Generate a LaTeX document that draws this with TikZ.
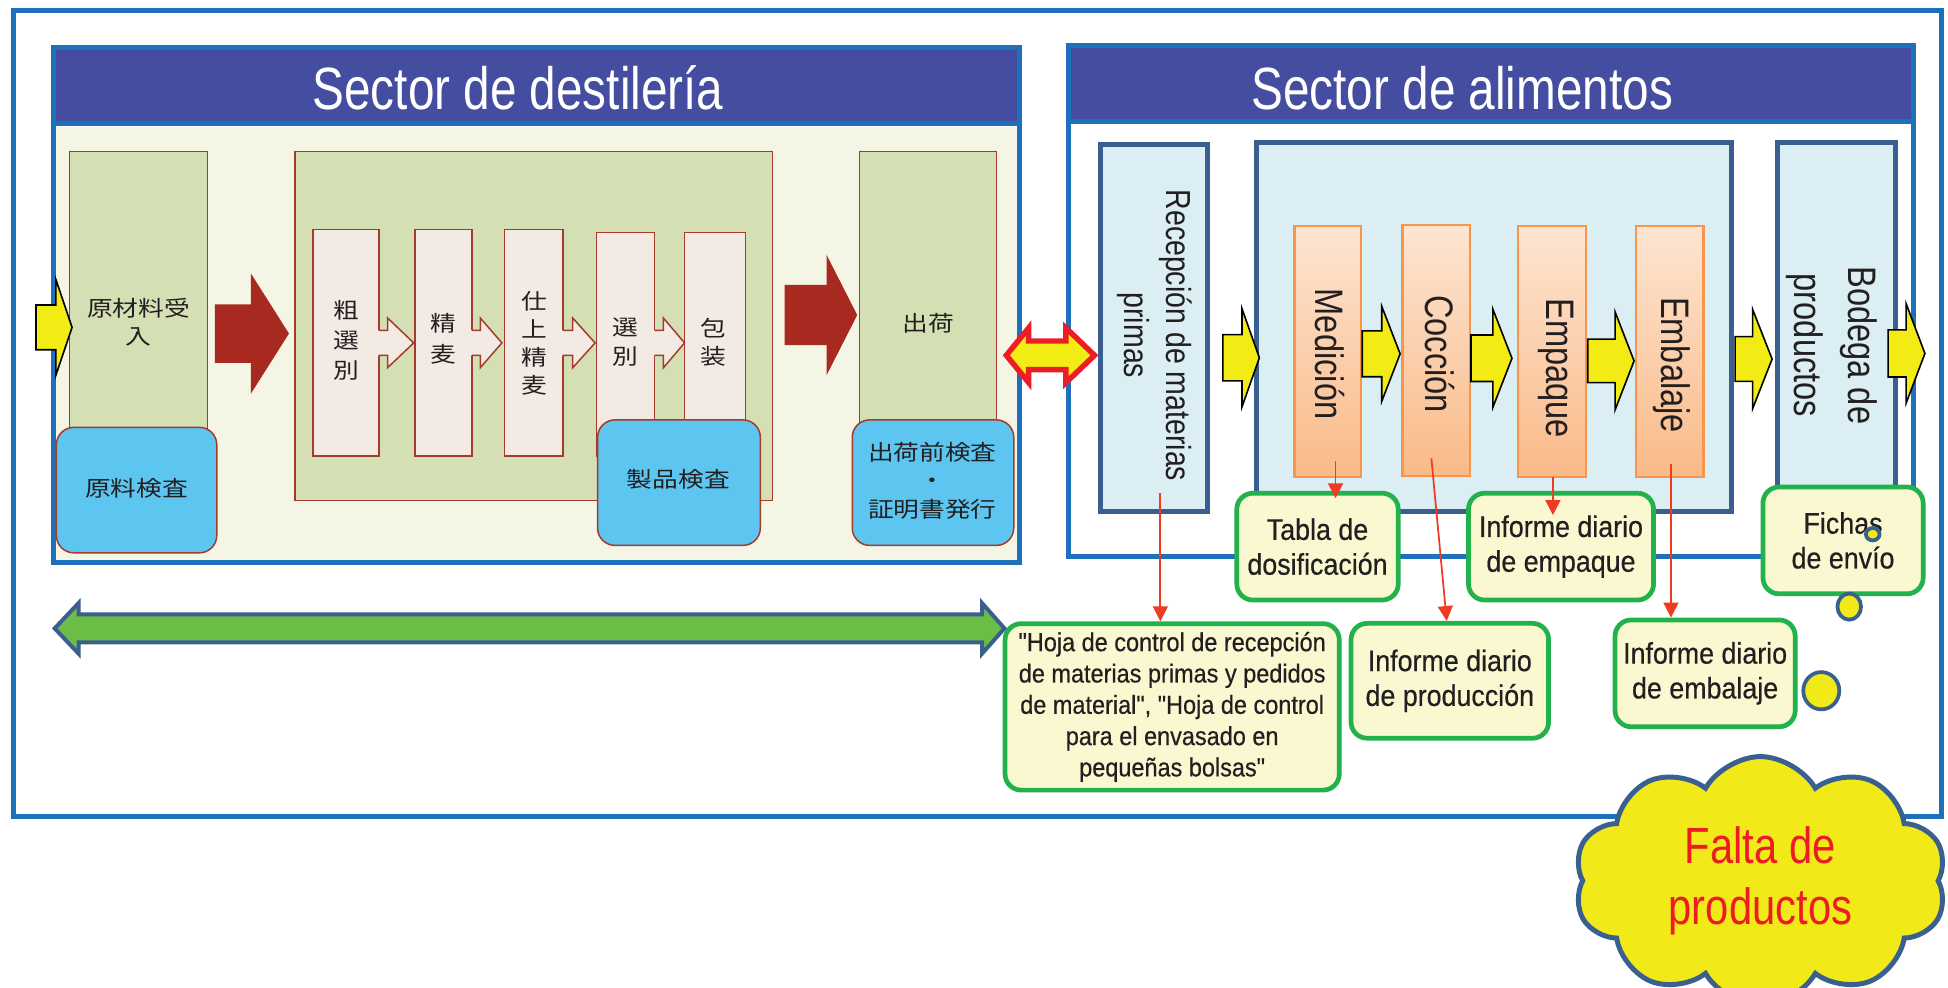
\documentclass[tikz,border=0pt]{standalone}
\usepackage{fontspec}
\setmainfont{Liberation Sans}
\newfontfamily\hdrf[FakeStretch=0.80]{Liberation Sans}
\newfontfamily\rotf[FakeStretch=0.82]{Liberation Sans}
\newfontfamily\lblf[FakeStretch=0.90,FakeBold=0.5]{Liberation Sans}
\newfontfamily\cldf[FakeStretch=0.82]{Liberation Sans}
\newfontfamily\cjkf[FakeStretch=1.19]{Noto Sans CJK JP}
\usetikzlibrary{shapes.symbols,arrows.meta,calc}

\definecolor{frameblue}{HTML}{1E70BA}
\definecolor{hdrfill}{HTML}{454DA0}
\definecolor{bgcream}{HTML}{F4F5E4}
\definecolor{boxgreen}{HTML}{D4E0B4}
\definecolor{boxred}{HTML}{A33A2C}
\definecolor{procfill}{HTML}{F3EAE3}
\definecolor{darkred}{HTML}{A8291F}
\definecolor{skyblue}{HTML}{5CC6F1}
\definecolor{lightblue}{HTML}{DAEEF4}
\definecolor{steel}{HTML}{3A5F8E}
\definecolor{orangetop}{HTML}{FDE5D2}
\definecolor{orangebot}{HTML}{F9BA88}
\definecolor{orangeedge}{HTML}{F7964A}
\definecolor{arrowyellow}{HTML}{F2EB14}
\definecolor{lblgreen}{HTML}{22B24C}
\definecolor{lblfill}{HTML}{FAF8D0}
\definecolor{linered}{HTML}{EE3B24}
\definecolor{redarrow}{HTML}{EE1D25}
\definecolor{arrowgreen}{HTML}{6CBD45}
\definecolor{cloudyellow}{HTML}{F2EA18}
\definecolor{cloudblue}{HTML}{3A6090}
\definecolor{cloudred}{HTML}{ED1C24}
\definecolor{textdark}{HTML}{231F20}

% box node from corner coordinates (display pixel units)
\newcommand{\mkbox}[6]{\node[#1, inner sep=0pt, outer sep=0pt, minimum width={(#5-#3)*0.5pt}, minimum height={(#6-#4)*0.5pt}] (#2) at ({(#3+#5)/2},{(#4+#6)/2}) {};}
% block arrow: style, x0, x1 (head base), x2 (tip), yc, shaft half, head half
\newcommand{\blockarr}[7]{\path[#1] (#2,#5-#6) -- (#3,#5-#6) -- (#3,#5-#7) -- (#4,#5) -- (#3,#5+#7) -- (#3,#5+#6) -- (#2,#5+#6) -- cycle;}
% double block arrow: style, xl, xli, xri, xr, yc, shaft half, head half
\newcommand{\dblarr}[8]{\path[#1] (#2,#6) -- (#3,#6-#8) -- (#3,#6-#7) -- (#4,#6-#7) -- (#4,#6-#8) -- (#5,#6) -- (#4,#6+#8) -- (#4,#6+#7) -- (#3,#6+#7) -- (#3,#6+#8) -- cycle;}
% small outline arrow between process boxes
\newcommand{\smallarr}[3]{%
 \fill[procfill] (#1-1,266) -- (#2,266) -- (#2,256) -- (#3,276) -- (#2,296) -- (#2,286) -- (#1-1,286) -- cycle;
 \draw[boxred, line width=0.6pt, line join=miter] (#1,266) -- (#2,266) -- (#2,256) -- (#3,276) -- (#2,296) -- (#2,286) -- (#1,286);}

\tikzset{
 secframe/.style={draw=frameblue, line width=2pt},
 hdrbox/.style={secframe, fill=hdrfill},
 hdrtext/.style={text=white, inner sep=0pt, font=\hdrf\fontsize{24pt}{28pt}\selectfont},
 greenbox/.style={fill=boxgreen, draw=boxred, line width=0.6pt},
 procbox/.style={fill=procfill, draw=boxred, line width=0.6pt},
 inspbox/.style={fill=skyblue, draw=boxred, line width=0.6pt, rounded corners=7pt},
 cjktext/.style={text=textdark, inner sep=0pt, align=center, font=\cjkf\fontsize{8.7pt}{12pt}\selectfont},
 bigred/.style={fill=darkred},
 yarrow/.style={fill=arrowyellow, draw=black, line width=0.65pt, line join=miter},
 bluebox/.style={fill=lightblue, draw=steel, line width=2pt},
 orangebox/.style={top color=orangetop, bottom color=orangebot, draw=orangeedge, line width=1pt},
 rottext/.style={rotate=-90, text=textdark, inner sep=0pt, align=center},
 lbl/.style={fill=lblfill, draw=lblgreen, line width=1.9pt, rounded corners=6.5pt, align=center, text=textdark, inner sep=0pt, font=\lblf\fontsize{12pt}{14pt}\selectfont},
 redarr/.style={draw=linered, line width=0.7pt, -{Triangle[width=6pt,length=6pt]}},
 bubble/.style={fill=cloudyellow, draw=cloudblue, line width=1.5pt},
}

\begin{document}
\begin{tikzpicture}[x=0.5pt,y=-0.5pt]
\useasboundingbox (0,0) rectangle (1568,795);
\fill[white] (0,0) rectangle (1568,795);

% outer frame
\draw[secframe] (10.7,8.4) rectangle (1563,657.4);

% ================= LEFT SECTOR =================
\mkbox{secframe, fill=white}{lbody}{42.7}{99.8}{821}{452.6}
\fill[bgcream] (44.8,102) rectangle (818.9,450.5);
\mkbox{hdrbox}{lhdr}{42.7}{38}{821}{99.8}
\node[hdrtext, anchor=base] (lhdrtxt) at (417,88) {Sector de destilería};

\mkbox{greenbox}{g1}{56}{122}{167}{400}
\mkbox{greenbox}{g2}{237.5}{122}{622}{403}
\mkbox{greenbox}{g3}{692}{122}{802}{400}
\mkbox{procbox}{p1}{252}{184.6}{305}{367}
\mkbox{procbox}{p2}{334}{184.6}{380}{367}
\mkbox{procbox}{p3}{406}{184.6}{453}{367}
\mkbox{procbox}{p4}{480}{187}{527}{367}
\mkbox{procbox}{p5}{551}{187}{600}{367}
\smallarr{305}{312}{333}
\smallarr{380}{386.6}{404}
\smallarr{453}{461}{479}
\smallarr{527}{534}{551}
\mkbox{inspbox}{b1}{45.4}{344}{174.5}{445}
\mkbox{inspbox}{b2}{481}{338}{612}{439}
\mkbox{inspbox}{b3}{686}{338}{816}{439}

\blockarr{bigred}{173}{202}{232.6}{268.5}{23.5}{48.3}
\blockarr{bigred}{631.6}{665.4}{690}{253.6}{24.2}{48.3}
\blockarr{yarrow}{29}{45}{58}{263.5}{18}{38.5}

\node[cjktext, font=\cjkf\fontsize{8.7pt}{11.5pt}\selectfont] (tgenzai) at (111.5,259.5) {原材料受\\入};
\node[cjktext] (tso) at (279,274) {粗\\選\\別};
\node[cjktext, font=\cjkf\fontsize{8.7pt}{12.5pt}\selectfont] (tsei) at (356.8,273) {精\\麦};
\node[cjktext, font=\cjkf\fontsize{8.7pt}{11.25pt}\selectfont] (tshiage) at (430,276.6) {仕\\上\\精\\麦};
\node[cjktext, font=\cjkf\fontsize{8.7pt}{11.5pt}\selectfont] (tsen) at (503,275.5) {選\\別};
\node[cjktext, font=\cjkf\fontsize{8.7pt}{11.5pt}\selectfont] (thou) at (574,275.5) {包\\装};
\node[cjktext] (tshukka) at (747.3,260.6) {出荷};
\node[cjktext] (tgenryo) at (110,393) {原料検査};
\node[cjktext] (tseihin) at (546,386) {製品検査};
\node[cjktext, font=\cjkf\fontsize{8.7pt}{11.6pt}\selectfont] (tmae) at (750.5,387) {出荷前検査\\・\\証明書発行};

% ================= RIGHT SECTOR =================
\mkbox{secframe, fill=white}{rbody}{860}{98}{1540}{448}
\mkbox{hdrbox}{rhdr}{860}{37}{1540}{98}
\node[hdrtext, anchor=base] (rhdrtxt) at (1177,88) {Sector de alimentos};

\mkbox{bluebox}{recep}{886}{116}{972}{412}
\mkbox{bluebox}{central}{1011}{115}{1394}{412}
\mkbox{bluebox}{bodega}{1431}{115}{1526}{412}
\mkbox{orangebox}{med}{1042}{182}{1095.5}{384}
\mkbox{orangebox}{coc}{1129}{181}{1183.3}{383}
\mkbox{orangebox}{emp}{1222}{182}{1276.7}{384}
\mkbox{orangebox}{emb}{1317}{182}{1371}{384}

\blockarr{yarrow}{984.3}{999.7}{1013.7}{288}{18.6}{39.5}
\blockarr{yarrow}{1096.5}{1112.2}{1127}{284.8}{18.5}{38.2}
\blockarr{yarrow}{1184}{1201.6}{1217}{288.4}{18.7}{39.6}
\blockarr{yarrow}{1278}{1300}{1315.3}{290.5}{17.5}{39.5}
\blockarr{yarrow}{1396.6}{1410.7}{1426.4}{289}{18}{40}
\blockarr{yarrow}{1519.8}{1534.3}{1549.4}{284.5}{19}{40}

\node[rottext, font=\rotf\fontsize{14pt}{17pt}\selectfont] (receptxt) at (929.5,270) {Recepción de materias\\primas};
\node[rottext, font=\rotf\fontsize{16pt}{19pt}\selectfont] (medtxt) at (1070.6,285) {Medición};
\node[rottext, font=\rotf\fontsize{16pt}{19pt}\selectfont] (coctxt) at (1159,285) {Cocción};
\node[rottext, font=\rotf\fontsize{16pt}{19pt}\selectfont] (emptxt) at (1252.7,296.4) {Empaque};
\node[rottext, font=\rotf\fontsize{16pt}{19pt}\selectfont] (embtxt) at (1345.6,293.8) {Embalaje};
\node[rottext, font=\rotf\fontsize{16pt}{22pt}\selectfont] (bodtxt) at (1474.5,278) {Bodega de\\productos};

% arrows between / under sectors
\dblarr{fill=arrowyellow, draw=redarrow, line width=2.2pt, line join=miter}{810}{828}{858}{881}{286}{11.5}{22}
\dblarr{fill=arrowgreen, draw=steel, line width=1.6pt, line join=miter}{44}{63.2}{790.5}{808.5}{505.8}{11.3}{20.3}

% ================= LABELS =================
\node[lbl, minimum width=65pt, minimum height=43pt] (tabla) at (1060.5,440) {Tabla de\\dosificación};
\node[lbl, minimum width=74.5pt, minimum height=43pt] (infemp) at (1256.5,440) {Informe diario\\de empaque};
\node[lbl, minimum width=64.5pt, minimum height=43pt] (fichas) at (1483.5,435) {Fichas\\de envío};
\node[lbl, minimum width=134.5pt, minimum height=67pt, font=\lblf\fontsize{10.5pt}{12.6pt}\selectfont] (hoja) at (943.5,569) {"Hoja de control de recepción\\de materias primas y pedidos\\de material", "Hoja de control\\para el envasado en\\pequeñas bolsas"};
\node[lbl, minimum width=79.5pt, minimum height=46.25pt] (infprod) at (1167,548) {Informe diario\\de producción};
\node[lbl, minimum width=72.5pt, minimum height=43pt] (infemb) at (1372.5,542) {Informe diario\\de embalaje};

% red connectors
\draw[redarr] ($(recep.south)+(5,-15)$) -- ($(hoja.north)+(-9.5,0)$);
\draw[redarr] ($(med.south)+(6.25,-13)$) -- ($(tabla.north)+(14.5,6)$);
\draw[redarr] ($(coc.south)+(-4,-14)$) -- ($(infprod.north)+(-2.5,0)$);
\draw[redarr] ($(emp.south)+(0.6,0)$) -- ($(infemp.north)+(-6.5,19.5)$);
\draw[redarr] ($(emb.south)+(1,-10.5)$) -- ($(infemb.north)+(-27.5,0)$);

% thought bubbles
\draw[bubble] (1507.4,430) ellipse [x radius=5.5, y radius=5];
\draw[bubble] (1488.5,488.3) ellipse [x radius=9.5, y radius=10.5];
\draw[bubble] (1466,556) ellipse [x radius=14.5, y radius=15];

% cloud
\node[cloud, cloud puffs=10, cloud puff arc=120, cloud ignores aspect, minimum width=150pt, minimum height=100pt, fill=cloudyellow, draw=cloudblue, line width=2pt, inner sep=0pt, align=center, text=cloudred, font=\cldf\fontsize{20.5pt}{24.8pt}\selectfont] (falta) at (1417,709) {Falta de\\productos};
\end{tikzpicture}
\end{document}
